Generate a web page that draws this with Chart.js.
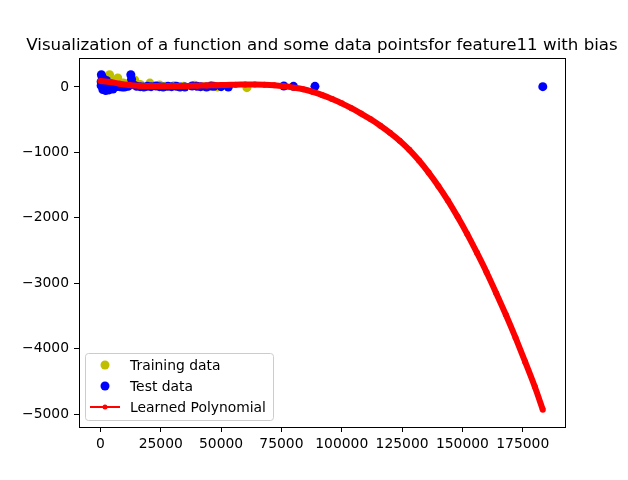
<!DOCTYPE html>
<html>
<head>
<meta charset="UTF-8">
<title>feature11 with bias</title>
<script src="https://cdn.jsdelivr.net/npm/chart.js"></script>
<style>
  body { margin: 0; background: #fff; }
  canvas { display: block; }
</style>
</head>
<body>
<canvas id="grafica" width="628" height="480"></canvas>
<script>
// datos
const tituloGrafica = 'Visualization of a function and some data pointsfor feature11 with bias';

const trainX = [2600, 3800, 5500, 7200, 9500, 11000, 14200, 16500, 20500, 21000, 24500, 27000, 30500, 34500, 39000, 43000, 45500, 48500, 60700];
const trainY = [120, 187, 90, 137, 60, 50, 107, 40, 60, 20, 30, 10, 20, 10, 25, 5, 15, 0, -10];

const testX = [300, 300, 400, 600, 800, 1200, 1500, 1800, 2500, 3000, 3500, 4200, 5000, 6000, 6500, 7500, 8000, 9000, 10000, 11500, 12600, 12900, 13500, 15000, 16500, 18000, 19500, 21000, 23000, 24500, 26000, 28000, 29500, 31500, 33000, 35000, 38000, 40000, 41500, 44000, 46000, 47000, 50000, 53000, 76000, 80000, 88900, 183300, 1000, 2200, 3600, 5200];
const testY = [20, 80, 187, 40, 150, 120, 10, 60, 100, 5, 40, 15, 20, 0, 10, 15, 5, 0, 0, 10, 187, 120, 40, 10, 5, 0, 10, 5, 15, 5, 0, 10, 5, 10, 0, 0, 15, 10, 5, 0, 15, 10, 5, 0, 15, 10, 10, 5, -40, -55, -45, -30];

const polyX = [0, 4000, 8000, 12000, 16000, 20000, 24000, 28000, 32000, 36000, 40000, 44000, 48000, 52000, 56000, 60000, 64000, 68000, 72000, 76000, 80000, 84000, 88000, 92000, 96000, 100000, 104000, 108000, 112000, 116000, 120000, 124000, 128000, 132000, 136000, 140000, 144000, 148000, 152000, 156000, 160000, 164000, 168000, 172000, 176000, 180000, 183300];
const polyY = [92, 76, 50, 31, 20, 15, 14, 14, 15, 17, 20, 24, 28, 32, 36, 38, 38, 34, 25, 10, -10, -35, -75, -125, -185, -250, -324, -406, -494, -592, -700, -820, -960, -1124, -1308, -1512, -1736, -1984, -2248, -2532, -2830, -3150, -3480, -3830, -4200, -4580, -4930];

const xTicks = [0, 25000, 50000, 75000, 100000, 125000, 150000, 175000];
const yTicks = [0, -1000, -2000, -3000, -4000, -5000];

const fuente = '"DejaVu Sans", sans-serif';

function puntos(xs, ys) {
  return xs.map((x, i) => ({ x: x, y: ys[i] }));
}

// titulo, marco y leyenda al estilo matplotlib
const estiloMatplotlib = {
  id: 'estiloMatplotlib',
  afterDraw(chart) {
    const ctx = chart.ctx;
    const a = chart.chartArea;
    ctx.save();
    ctx.strokeStyle = '#000';
    ctx.lineWidth = 1;
    ctx.strokeRect(Math.round(a.left) + 0.5, Math.round(a.top) + 0.5,
      Math.round(a.right - a.left), Math.round(a.bottom - a.top));

    ctx.fillStyle = '#000';
    ctx.font = '16.67px ' + fuente;
    ctx.textAlign = 'center';
    ctx.textBaseline = 'alphabetic';
    ctx.fillText(tituloGrafica, (a.left + a.right) / 2, a.top - 8);

    // leyenda
    const lx = a.left + 6, ly = a.bottom - 74, lw = 188, lh = 67;
    ctx.beginPath();
    ctx.roundRect(lx + 0.5, ly + 0.5, lw, lh, 3);
    ctx.fillStyle = 'rgba(255,255,255,0.8)';
    ctx.fill();
    ctx.strokeStyle = '#cccccc';
    ctx.stroke();

    ctx.font = '13.89px ' + fuente;
    ctx.textAlign = 'left';
    ctx.textBaseline = 'middle';
    chart.data.datasets.forEach((ds, i) => {
      const cy = ly + 12 + i * 21;
      const cx = lx + 20;
      if (ds.showLine) {
        ctx.strokeStyle = ds.borderColor;
        ctx.lineWidth = 2;
        ctx.beginPath();
        ctx.moveTo(cx - 15, cy);
        ctx.lineTo(cx + 15, cy);
        ctx.stroke();
        ctx.beginPath();
        ctx.arc(cx, cy, 2.5, 0, Math.PI * 2);
        ctx.fillStyle = ds.pointBackgroundColor;
        ctx.fill();
      } else {
        ctx.beginPath();
        ctx.arc(cx, cy, 4.5, 0, Math.PI * 2);
        ctx.fillStyle = ds.pointBackgroundColor;
        ctx.fill();
      }
      ctx.fillStyle = '#000';
      ctx.fillText(ds.label, lx + 45, cy + 1);
    });
    ctx.restore();
  }
};

const ctx = document.getElementById('grafica');

const grafica = new Chart(ctx, {
  type: 'scatter',
  data: {
    datasets: [
      {
        label: 'Training data',
        data: puntos(trainX, trainY),
        order: 2,
        pointBackgroundColor: '#bfbf00',
        pointBorderColor: '#bfbf00',
        pointRadius: 4.5,
        pointBorderWidth: 0
      },
      {
        label: 'Test data',
        data: puntos(testX, testY),
        order: 1,
        pointBackgroundColor: '#0000ff',
        pointBorderColor: '#0000ff',
        pointRadius: 4.5,
        pointBorderWidth: 0
      },
      {
        label: 'Learned Polynomial',
        data: puntos(polyX, polyY),
        order: 0,
        showLine: true,
        borderColor: '#ff0000',
        borderWidth: 6,
        pointBackgroundColor: '#ff0000',
        pointBorderColor: '#ff0000',
        pointRadius: 3,
        pointBorderWidth: 0,
        tension: 0.3
      }
    ]
  },
  options: {
    responsive: false,
    animation: false,
    devicePixelRatio: 1,
    layout: { padding: { top: 58, right: 63, bottom: 0, left: 0 } },
    plugins: {
      legend: { display: false },
      title: { display: false },
      tooltip: { enabled: false }
    },
    scales: {
      x: {
        type: 'linear',
        min: -8870,
        max: 192500,
        afterBuildTicks: (s) => { s.ticks = xTicks.map(v => ({ value: v })); },
        afterFit: (s) => { s.height = 53; },
        grid: { drawOnChartArea: false, drawTicks: true, tickLength: 5, color: '#000' },
        border: { display: true, color: '#000' },
        ticks: {
          color: '#000',
          padding: 4,
          maxRotation: 0,
          autoSkip: false,
          font: { family: fuente, size: 13.89 },
          callback: (v) => String(v)
        }
      },
      y: {
        type: 'linear',
        min: -5195,
        max: 443,
        afterBuildTicks: (s) => { s.ticks = yTicks.map(v => ({ value: v })); },
        afterFit: (s) => { s.width = 79; },
        grid: { drawOnChartArea: false, drawTicks: true, tickLength: 5, color: '#000' },
        border: { display: true, color: '#000' },
        ticks: {
          color: '#000',
          padding: 5,
          autoSkip: false,
          font: { family: fuente, size: 13.89 },
          callback: (v) => String(v).replace('-', '\u2212')
        }
      }
    }
  },
  plugins: [estiloMatplotlib]
});
</script>
</body>
</html>
